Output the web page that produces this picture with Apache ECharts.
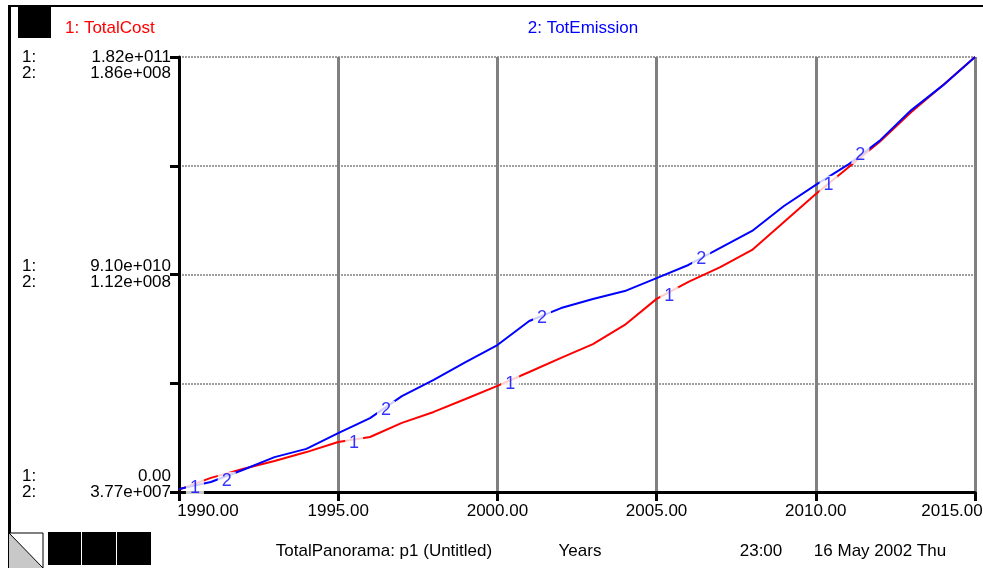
<!DOCTYPE html>
<html>
<head>
<meta charset="utf-8">
<script src="https://cdn.jsdelivr.net/npm/echarts@6/dist/echarts.min.js"></script>
<style>
html, body { margin: 0; padding: 0; background: #fff; }
#main { width: 983px; height: 568px; }
</style>
</head>
<body>
<div id="main"></div>
<script>
// values; cost in 1e9, emission in 1e6
var years = [1990, 1991, 1992, 1993, 1994, 1995, 1996, 1997, 1998, 1999, 2000, 2001, 2002,
  2003, 2004, 2005, 2006, 2007, 2008, 2009, 2010, 2011, 2012, 2013, 2014, 2015];
var totalCost = [1.0, 5.9, 9.6, 13.0, 16.7, 20.9, 23.0, 28.9, 33.5, 38.9, 44.4, 50.2, 56.1,
  61.9, 69.9, 80.8, 87.9, 94.1, 101.3, 113.0, 124.7, 135.6, 146.4, 159.0, 170.3, 182.0];
var totEmission = [38.7, 41.1, 45.2, 49.6, 52.4, 57.8, 62.9, 70.4, 75.9, 82.0, 87.8, 96.0, 100.4,
  103.5, 106.2, 110.6, 115.1, 120.9, 126.7, 135.2, 142.4, 149.2, 157.4, 167.9, 176.4, 186.0];

// curve number markers
var costMarkYears = [1990.5, 1995.5, 2000.4, 2005.4, 2010.4];
var costMarkValues = [1.7, 20.5, 45.2, 82.0, 128.5];
var emisMarkYears = [1991.5, 1996.5, 2001.4, 2006.4, 2011.4];
var emisMarkValues = [41.5, 65.7, 97.0, 117.1, 152.6];

var costTickLabels = ['0.00', '9.10e+010', '1.82e+011'];
var emisTickLabels = ['3.77e+007', '1.12e+008', '1.86e+008'];

var FONT = '"Liberation Sans", Arial, sans-serif';
var FS = 17;
var RED = '#ff0000';
var BLUE = '#0000ff';

function pairs(xs, ys) {
  return xs.map(function (x, i) { return [x, ys[i]]; });
}

var myChart = echarts.init(document.getElementById('main'), null, { renderer: 'canvas' });

function txt(s, x, y, color, align) {
  return {
    type: 'text', x: x, y: y, silent: true,
    style: { text: s, fill: color || '#000', font: FS + 'px ' + FONT, align: align || 'left', verticalAlign: 'middle' }
  };
}

var option = {
  animation: false,
  backgroundColor: '#fff',
  grid: { left: 179, right: 8, top: 57, bottom: 76, containLabel: false, outerBoundsMode: 'none' },
  xAxis: {
    type: 'value',
    min: 1990, max: 2015, interval: 5,
    axisLine: { onZero: false, lineStyle: { color: '#000', width: 3 } },
    axisTick: { length: 9, lineStyle: { color: '#000', width: 3 } },
    splitLine: { show: true, lineStyle: { color: '#808080', width: 3 } },
    showMinLabel: true, showMaxLabel: true,
    axisLabel: {
      margin: 11,
      color: '#000', fontSize: FS, fontFamily: FONT,
      formatter: function (v) {
        var s = v.toFixed(2);
        if (v === 2015) return '{last|' + s + '}';
        if (v === 1990) return '{first|' + s + '}';
        return '{mid|' + s + '}';
      },
      rich: {
        first: { fontSize: FS, fontFamily: FONT, color: '#000', padding: [0, 0, 0, 58] },
        mid: { fontSize: FS, fontFamily: FONT, color: '#000' },
        last: { fontSize: FS, fontFamily: FONT, color: '#000', padding: [0, 46, 0, 0] }
      }
    }
  },
  yAxis: [
    {
      type: 'value',
      min: 0, max: 182, interval: 45.5,
      axisLine: { show: true, lineStyle: { color: '#000', width: 3 } },
      axisTick: { show: true, length: 9, lineStyle: { color: '#000', width: 3 } },
      splitLine: { show: true, lineStyle: { color: '#a0a0a0', width: 2, type: [2, 1] } },
      showMinLabel: true, showMaxLabel: true,
      axisLabel: {
        margin: 8,
        lineHeight: 16,
        color: '#000', fontSize: FS, fontFamily: FONT,
        formatter: function (v) {
          var i = Math.round(v / 45.5);
          if (i % 2) return '';
          var k = i / 2;
          var l1 = '{k|1:}{v|' + costTickLabels[k] + '}';
          var l2 = '{k|2:}{v|' + emisTickLabels[k] + '}';
          var blank = '{k| }';
          if (k === 2) return blank + '\n' + l1 + '\n' + l2;
          if (k === 1) return l1 + '\n' + l2;
          return l1 + '\n' + l2 + '\n' + blank;
        },
        rich: {
          k: { width: 40, align: 'left', fontSize: FS, fontFamily: FONT, color: '#000', lineHeight: 16 },
          v: { width: 109, align: 'right', fontSize: FS, fontFamily: FONT, color: '#000', lineHeight: 16 }
        }
      }
    },
    {
      type: 'value',
      min: 37.7, max: 186,
      show: false,
      splitLine: { show: false }
    }
  ],
  series: [
    {
      name: '1: TotalCost',
      type: 'line',
      yAxisIndex: 0,
      showSymbol: false,
      lineStyle: { color: RED, width: 2 },
      itemStyle: { color: RED },
      z: 3,
      data: pairs(years, totalCost)
    },
    {
      name: '2: TotEmission',
      type: 'line',
      yAxisIndex: 1,
      showSymbol: false,
      lineStyle: { color: BLUE, width: 2 },
      itemStyle: { color: BLUE },
      z: 4,
      data: pairs(years, totEmission)
    },
    {
      type: 'scatter',
      yAxisIndex: 0,
      symbolSize: 1,
      itemStyle: { color: 'rgba(0,0,0,0)' },
      silent: true,
      z: 6,
      label: {
        show: true, position: 'inside', formatter: '1',
        color: BLUE, fontSize: 18, fontFamily: FONT,
        backgroundColor: '#fff', padding: [0, 4]
      },
      data: pairs(costMarkYears, costMarkValues)
    },
    {
      type: 'scatter',
      yAxisIndex: 1,
      symbolSize: 1,
      itemStyle: { color: 'rgba(0,0,0,0)' },
      silent: true,
      z: 6,
      label: {
        show: true, position: 'inside', formatter: '2',
        color: BLUE, fontSize: 18, fontFamily: FONT,
        backgroundColor: '#fff', padding: [0, 4]
      },
      data: pairs(emisMarkYears, emisMarkValues)
    }
  ],
  graphic: [
    // frame
    { type: 'rect', silent: true, shape: { x: 8, y: 5, width: 975, height: 2 }, style: { fill: '#000' } },
    { type: 'rect', silent: true, shape: { x: 8, y: 5, width: 3, height: 563 }, style: { fill: '#000' } },
    { type: 'rect', silent: true, shape: { x: 18, y: 7, width: 33, height: 31 }, style: { fill: '#000' } },
    // bottom-left icons
    { type: 'rect', silent: true, shape: { x: 9, y: 533, width: 34, height: 36 }, style: { fill: '#fff', stroke: '#000', lineWidth: 1 } },
    { type: 'polygon', silent: true, shape: { points: [[9, 533], [9, 568], [43, 568]] }, style: { fill: '#c8c8c8' } },
    { type: 'line', silent: true, shape: { x1: 9, y1: 533, x2: 43, y2: 568 }, style: { stroke: '#000', lineWidth: 1 } },
    { type: 'rect', silent: true, shape: { x: 48, y: 532, width: 33, height: 33 }, style: { fill: '#000' } },
    { type: 'rect', silent: true, shape: { x: 82, y: 532, width: 34, height: 33 }, style: { fill: '#000' } },
    { type: 'rect', silent: true, shape: { x: 117, y: 532, width: 34, height: 33 }, style: { fill: '#000' } },
    // header
    txt('1: TotalCost', 65, 28, RED),
    txt('2: TotEmission', 583, 28, BLUE, 'center'),
    // footer
    txt('TotalPanorama: p1 (Untitled)', 384, 551, '#000', 'center'),
    txt('Years', 580, 551, '#000', 'center'),
    txt('23:00', 761, 551, '#000', 'center'),
    txt('16 May 2002 Thu', 880, 551, '#000', 'center')
  ]
};

myChart.setOption(option);
</script>
</body>
</html>
